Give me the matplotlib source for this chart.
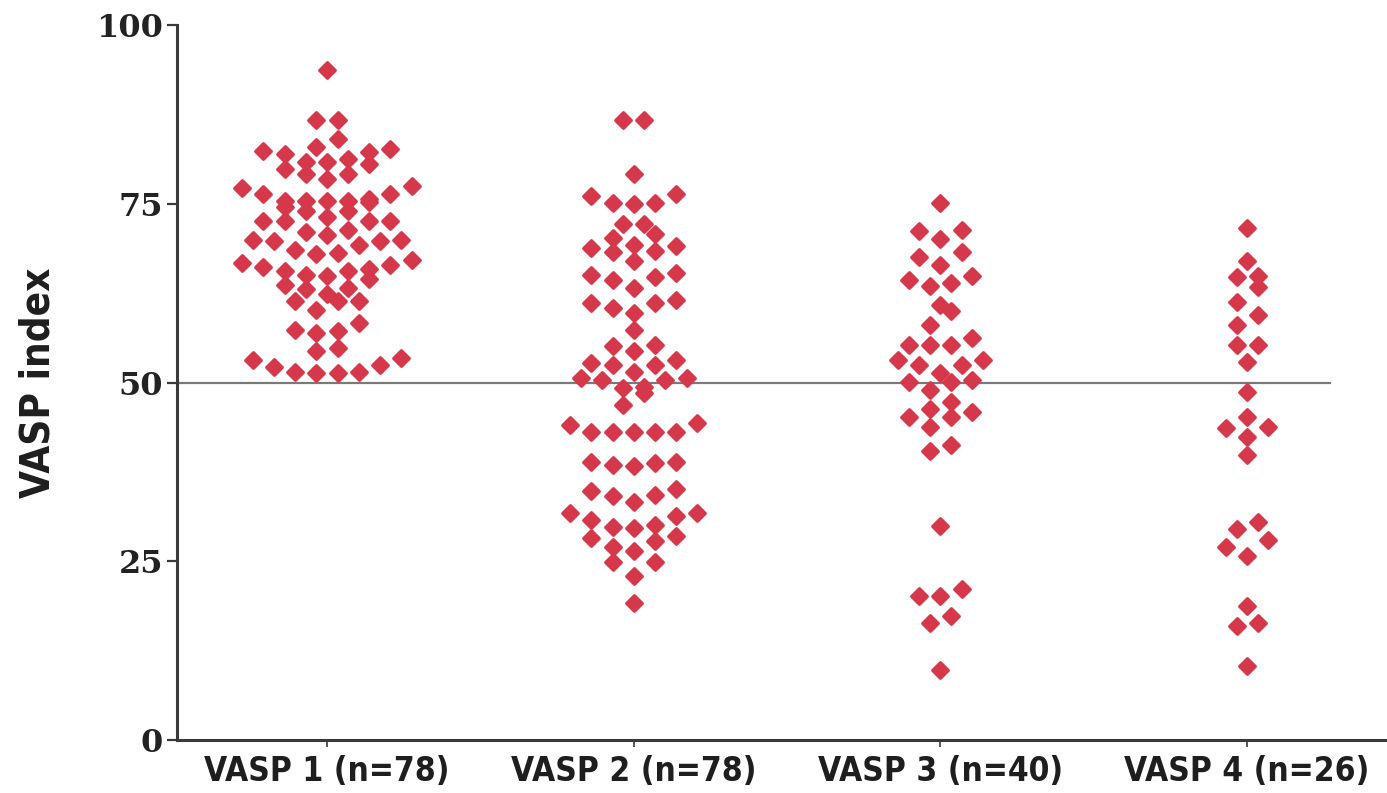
import numpy as np
import matplotlib.pyplot as plt
from matplotlib.markers import MarkerStyle

groups = ['VASP 1 (n=78)', 'VASP 2 (n=78)', 'VASP 3 (n=40)', 'VASP 4 (n=26)']

vasp1 = [93.7, 86.7, 86.7, 84.1,
         82.7, 82.4, 83.0, 82.3, 81.9,
         81.3, 80.8, 80.5, 80.8,
         79.9, 79.1, 79.1, 78.4,
         77.2, 77.5, 76.3, 76.3,
         75.4, 75.4, 75.3, 75.4, 75.4, 75.6, 74.0, 74.0, 74.6,
         73.2, 72.6, 72.6, 72.6, 72.6, 71.1, 71.3,
         69.9, 69.8, 69.2, 69.8, 69.9, 70.6,
         68.0, 68.1, 67.1, 68.5,
         66.7, 66.1, 65.6, 65.0, 64.5, 64.9, 65.6, 65.9, 66.4,
         63.2, 62.4, 63.1, 63.6,
         61.4, 61.4, 61.4, 60.1,
         58.3, 57.2, 56.9, 57.3,
         54.8, 54.4,
         53.2, 53.4, 52.5, 52.1, 51.4, 51.3, 51.3, 51.4]

vasp2 = [86.7, 86.7, 79.1,
         76.1, 76.4, 74.9, 75.1, 75.1,
         72.2, 72.1,
         70.2, 70.8, 69.1, 68.4, 68.3, 68.8, 69.2, 67.0,
         65.0, 64.3, 65.3, 63.2, 64.8,
         61.1, 61.1, 61.5, 59.7, 60.4,
         57.4,
         55.1, 55.2, 54.4,
         53.1, 52.4, 52.4, 52.7, 51.5,
         50.6, 50.3, 50.6, 50.3, 49.4, 48.5, 49.2,
         46.9,
         44.4, 44.0, 43.1, 43.1, 43.1, 43.1, 43.1,
         38.9, 38.5, 38.3, 38.8, 38.9,
         35.1, 34.1, 33.3, 34.3, 34.8,
         31.7, 31.7, 31.3, 30.8, 29.8, 29.6, 30.1, 28.5, 27.8, 28.2,
         26.4, 27.0, 24.9, 24.9,
         22.9, 19.2]

vasp3 = [75.1, 71.3, 70.0, 71.2,
         67.5, 68.3, 66.5,
         64.9, 63.9, 63.5, 64.3,
         60.8, 60.0, 58.1,
         55.2, 55.2, 56.2, 55.2,
         52.4, 53.1, 53.2, 52.4, 51.3,
         50.3, 50.1, 50.1, 48.9,
         47.3, 45.9, 46.3, 45.2, 45.2,
         43.8, 40.4, 41.2,
         29.9, 21.1, 20.1, 20.1, 17.3, 16.4, 9.8]

vasp4 = [71.6, 67.0, 64.7, 64.9, 63.3,
         61.2, 59.4, 58.0,
         55.2, 55.2, 52.9, 48.7,
         45.2, 43.8, 43.7, 42.4, 39.9,
         30.5, 29.5, 28.0, 25.8, 27.0,
         18.8, 16.4, 16.0, 10.3]

threshold = 50
yticks = [0, 25, 50, 75, 100]

red = '#d6384b'
axis_col = '#3a3a3a'


def column_offsets(values, band=2.2, step=0.069):
    # group sorted values into horizontal bands, then spread each band
    # left and right of the centre with the lowest value in the middle
    values = np.asarray(values, dtype=float)
    order = np.argsort(values)
    offsets = np.zeros(len(values))
    rows, current, start = [], [], None
    for k in order:
        if start is None or values[k] - start > band:
            if current:
                rows.append(current)
            current, start = [k], values[k]
        else:
            current.append(k)
    rows.append(current)
    for idx in rows:
        n = len(idx)
        slots = np.arange(n) - (n - 1) / 2
        slots = slots[np.argsort(np.abs(slots) + 1e-3 * slots, kind='stable')]
        offsets[idx] = slots * step
    return offsets


fig = plt.figure(figsize=(13.87, 7.93), dpi=100)
ax = fig.add_axes([0.1276, 0.0668, 0.8724, 0.9017])

marker = MarkerStyle('D', joinstyle='round')
for i, vals in enumerate([vasp1, vasp2, vasp3, vasp4]):
    xs = i + 1 + column_offsets(vals)
    ax.scatter(xs, vals, marker=marker, s=62, color=red, edgecolor=red,
               linewidth=2.4, zorder=3)

ax.axhline(threshold, xmin=0, xmax=0.953, color='#7a7a7a', lw=1.6, zorder=2)

ax.set_xlim(0.511, 4.456)
ax.set_ylim(0, 100)
ax.set_yticks(yticks)
ax.set_xticks(range(1, len(groups) + 1))
ax.set_xticklabels(groups, family='DejaVu Sans', fontstretch='condensed',
                   fontweight='bold', fontsize=24, color='#1e1e1e')
ax.set_yticklabels([str(t) for t in yticks], family='DejaVu Serif',
                   fontweight='bold', fontsize=23, color='#222222')

for side in ['top', 'right']:
    ax.spines[side].set_visible(False)
for side in ['left', 'bottom']:
    ax.spines[side].set_color(axis_col)
    ax.spines[side].set_linewidth(2.2)

ax.tick_params(axis='y', length=7, width=1.6, color=axis_col, pad=3)
ax.tick_params(axis='x', length=5, width=1.2, color=axis_col, pad=6)

ax.set_ylabel('VASP index', family='DejaVu Sans', fontstretch='condensed',
              fontweight='bold', fontsize=29, color='#1e1e1e')
ax.yaxis.set_label_coords(-0.098, 0.5)

fig.savefig('out.png', dpi=100)
